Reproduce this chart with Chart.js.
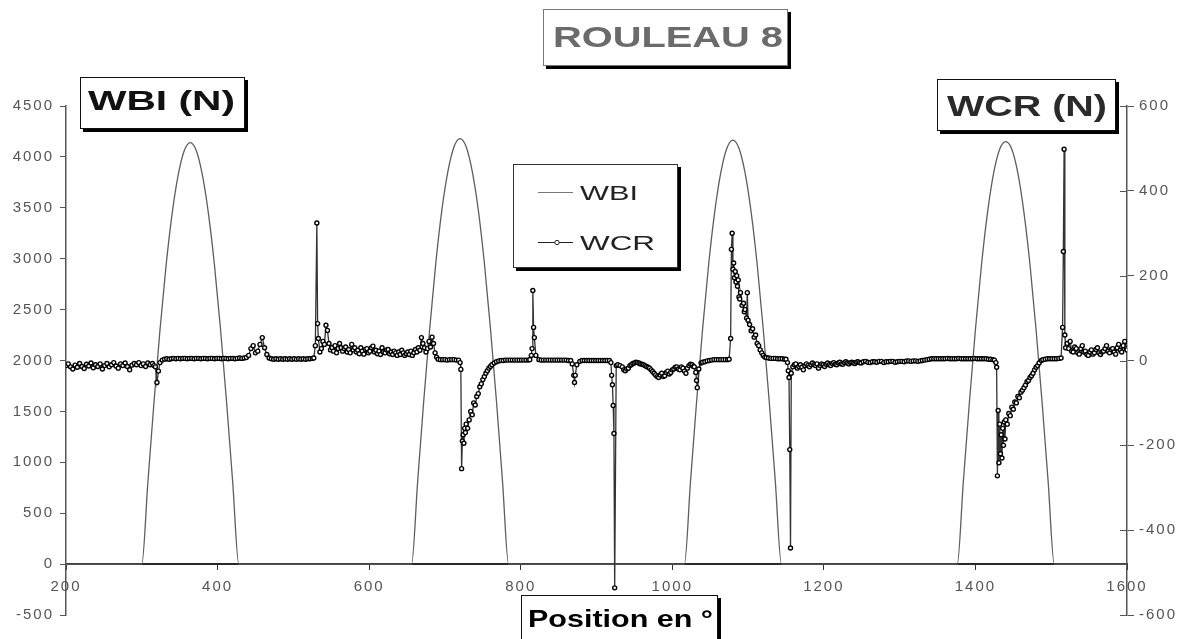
<!DOCTYPE html>
<html>
<head>
<meta charset="utf-8">
<title>ROULEAU 8</title>
<script src="https://cdn.jsdelivr.net/npm/chart.js@4.4.1/dist/chart.umd.min.js"></script>
<style>
  html, body { margin: 0; padding: 0; background: #fff; }
  #chart { display: block; }
</style>
</head>
<body>
<canvas id="chart" width="1184" height="639"></canvas>
<script>
// tick labels
const posTicks = [200, 400, 600, 800, 1000, 1200, 1400, 1600];
const wbiTicks = [-500, 0, 500, 1000, 1500, 2000, 2500, 3000, 3500, 4000, 4500];
const wcrTicks = [-600, -400, -200, 0, 200, 400, 600];

// WBI (N) : [position en °, effort]
const wbiPoints = [
  [200, 0], [300, 0],
  [308, 800], [316, 1580], [324, 2300], [332, 2930], [340, 3440], [348, 3820], [356, 4060], [364, 4140],
  [372, 4060], [380, 3820], [388, 3440], [396, 2930], [404, 2300], [412, 1580], [420, 800], [428, 0],
  [656, 0],
  [664, 810], [672, 1600], [680, 2320], [688, 2960], [696, 3480], [704, 3860], [712, 4100], [720, 4180],
  [728, 4100], [736, 3860], [744, 3480], [752, 2960], [760, 2320], [768, 1600], [776, 810], [784, 0],
  [1016, 0],
  [1024, 805], [1032, 1590], [1040, 2310], [1048, 2945], [1056, 3460], [1064, 3845], [1072, 4085], [1080, 4165],
  [1088, 4085], [1096, 3845], [1104, 3460], [1112, 2945], [1120, 2310], [1128, 1590], [1136, 805], [1144, 0],
  [1376, 0],
  [1384, 805], [1392, 1585], [1400, 2305], [1408, 2940], [1416, 3455], [1424, 3840], [1432, 4075], [1440, 4150],
  [1448, 4075], [1456, 3840], [1464, 3455], [1472, 2940], [1480, 2305], [1488, 1585], [1496, 805], [1504, 0],
  [1600, 0]
];

// WCR (N) : [position en °, effort]
const wcrPoints = [
  [200, -12], [203, -8], [206, -15], [209, -20], [212, -11], [215, -16], [218, -7], [221, -14], [224, -19], [227, -9],
  [230, -13], [233, -6], [236, -17], [239, -10], [242, -14], [245, -8], [248, -20], [251, -12], [254, -7], [257, -15],
  [260, -10], [263, -5], [266, -13], [269, -18], [272, -8], [275, -12], [278, -6], [281, -14], [284, -22], [287, -11],
  [290, -7], [293, -10], [296, -5], [299, -12], [302, -8], [305, -14], [308, -6], [311, -10], [314, -7], [316, -12],
  [318, -15], [320, -52], [322, -25], [324, -5],
  [327, 1], [330, 3], [333, 4], [336, 3], [339, 4], [342, 5], [345, 4], [348, 5], [351, 4], [354, 5], [357, 5],
  [360, 4], [363, 5], [366, 5], [369, 4], [372, 5], [375, 5], [378, 4], [381, 5], [384, 5], [387, 4], [390, 5],
  [393, 5], [396, 4], [399, 5], [402, 5], [405, 4], [408, 5], [411, 5], [414, 4], [417, 5], [420, 5], [423, 4],
  [426, 5], [429, 6], [432, 5], [435, 6], [438, 7],
  [441, 12], [444, 28], [447, 35], [450, 18], [453, 22], [456, 38], [459, 54], [462, 30], [465, 14], [468, 6],
  [471, 4], [474, 3], [477, 4], [480, 3], [483, 4], [486, 3], [489, 4], [492, 3], [495, 4], [498, 3], [501, 4],
  [504, 3], [507, 4], [510, 3], [513, 4], [516, 3], [519, 4], [522, 4], [525, 5], [527, 6],
  [529, 35], [531, 324], [532, 87], [533, 52], [535, 20],
  [537, 28], [539, 45], [541, 38], [543, 83], [545, 71], [547, 40], [549, 25], [551, 30], [553, 22], [555, 35],
  [557, 18], [559, 28], [561, 40], [563, 30], [565, 22], [567, 28], [569, 32], [571, 20], [573, 26], [575, 18],
  [577, 38], [579, 25], [581, 30], [583, 20], [585, 24], [587, 16], [589, 30], [591, 22], [593, 15], [595, 26],
  [597, 28], [599, 18], [601, 22], [603, 30], [605, 34], [607, 20], [609, 24], [611, 16], [613, 22], [615, 14],
  [617, 30], [619, 20], [621, 18], [623, 25], [625, 26], [627, 16], [629, 20], [631, 14], [633, 22], [635, 18],
  [637, 12], [639, 20], [641, 14], [643, 24], [645, 18], [647, 12], [649, 16], [651, 20], [653, 14], [655, 22],
  [657, 12], [659, 18], [661, 26], [663, 20], [665, 30], [667, 24], [669, 54], [671, 40], [673, 30], [675, 20],
  [677, 28], [679, 45], [681, 32], [683, 55], [685, 40], [687, 18], [689, 8], [691, 3],
  [694, 2], [697, 2], [700, 2], [703, 1], [706, 2], [709, 2], [712, 2], [715, 1], [718, 1],
  [720, -5], [721, -21], [722, -255], [723, -190], [724, -175], [725, -195], [726, -160], [727, -170], [728, -150],
  [730, -160], [732, -140], [734, -120], [736, -128], [738, -100], [740, -105], [742, -85], [744, -78], [746, -62],
  [748, -55], [750, -45], [752, -38], [754, -30], [756, -24], [758, -18], [760, -14], [762, -10], [765, -6], [768, -3],
  [771, -1], [774, 0], [777, 0], [780, 1], [783, 1], [786, 1], [789, 1], [792, 1], [795, 1], [798, 1], [801, 1],
  [804, 1], [807, 1], [810, 1], [812, 2],
  [814, 12], [815, 28], [816, 165], [817, 78], [818, 54], [820, 12], [824, 2],
  [827, 1], [830, 1], [833, 1], [836, 1], [839, 1], [842, 1], [845, 1], [848, 1], [851, 1], [854, 1], [857, 1],
  [860, 1], [863, 0], [866, 0],
  [868, -8], [870, -35], [871, -52], [872, -35], [874, -10], [878, -2],
  [881, 0], [884, 0], [887, 0], [890, 0], [893, 0], [896, 0], [899, 0], [902, 0], [905, 0], [908, 0], [911, 0],
  [914, 0], [917, 0],
  [919, -5], [920, -35], [921, -57], [922, -106], [923, -172], [924, -536], [926, -12],
  [928, -10], [931, -12], [934, -15], [936, -22], [938, -24], [940, -20], [942, -18], [944, -12], [946, -10],
  [948, -7], [950, -6], [952, -4], [954, -5], [956, -6], [958, -8], [960, -9], [962, -10], [964, -12], [966, -14],
  [968, -16], [970, -18], [972, -22], [974, -26], [976, -30], [978, -34], [980, -38], [982, -40], [984, -34],
  [986, -30], [988, -38], [990, -36], [992, -28], [994, -25], [996, -32], [998, -28], [1000, -22], [1002, -20],
  [1004, -16], [1006, -15], [1008, -20], [1010, -22], [1012, -15], [1014, -18], [1016, -25], [1018, -30],
  [1020, -18], [1022, -12], [1024, -9], [1026, -10], [1028, -14], [1029, -15],
  [1031, -28], [1032, -47], [1033, -64], [1035, -20], [1038, -6],
  [1040, -4], [1043, -3], [1046, -1], [1049, 0], [1052, 1], [1055, 2], [1058, 2], [1061, 2], [1064, 2], [1067, 2],
  [1070, 2], [1073, 2], [1075, 3],
  [1077, 52], [1078, 262], [1079, 300], [1080, 215], [1081, 230], [1082, 195], [1083, 210], [1084, 185], [1085, 200],
  [1086, 175], [1087, 190], [1088, 150], [1089, 145], [1090, 160], [1092, 130], [1094, 135], [1095, 115], [1096, 120],
  [1098, 100], [1099, 160], [1100, 95], [1102, 85], [1104, 70], [1106, 75], [1108, 55], [1110, 60], [1112, 40],
  [1114, 35], [1116, 25], [1118, 18], [1120, 12], [1122, 8],
  [1124, 7], [1127, 6], [1130, 5], [1133, 5], [1136, 5], [1139, 4], [1142, 4], [1145, 4], [1148, 3], [1150, 3],
  [1152, -5], [1153, -24], [1154, -40], [1155, -210], [1156, -442], [1157, -30],
  [1159, -15], [1161, -10], [1163, -8], [1165, -18], [1167, -14], [1169, -10], [1171, -16], [1173, -22], [1175, -12],
  [1177, -8], [1179, -12], [1181, -15], [1183, -10], [1185, -6], [1187, -10], [1189, -12], [1191, -8], [1193, -18],
  [1195, -12], [1197, -8], [1199, -10], [1201, -14], [1203, -9], [1205, -6], [1207, -10], [1209, -12], [1211, -7],
  [1213, -5], [1215, -9], [1217, -10], [1219, -6], [1221, -4], [1223, -8], [1225, -9], [1227, -5], [1229, -3],
  [1231, -6], [1233, -8], [1235, -5], [1237, -4], [1239, -6], [1241, -7], [1243, -4], [1245, -3], [1247, -5],
  [1249, -6], [1252, -3], [1255, -2], [1258, -4], [1261, -5], [1264, -3], [1267, -3], [1270, -4], [1273, -2],
  [1276, -2], [1279, -5], [1282, -3], [1285, -3], [1288, -2], [1291, -2], [1294, -4], [1297, -3], [1300, -2],
  [1303, -2], [1306, -3], [1309, -1], [1312, -1], [1315, -2], [1318, -1], [1321, -1], [1324, -2], [1327, -1],
  [1330, 0], [1333, 1], [1336, 2], [1339, 3], [1342, 4], [1345, 4], [1348, 4], [1351, 4], [1354, 4], [1357, 4],
  [1360, 4], [1363, 5], [1366, 4], [1369, 4], [1372, 4], [1375, 4], [1378, 5], [1381, 4], [1384, 4], [1387, 4],
  [1390, 4], [1393, 4], [1396, 4], [1399, 5], [1402, 4], [1405, 4], [1408, 4], [1411, 4], [1414, 4], [1417, 3],
  [1420, 3], [1423, 2], [1425, 1],
  [1427, -5], [1428, -16], [1429, -272], [1430, -118], [1431, -241], [1432, -150], [1433, -220], [1434, -175],
  [1435, -230], [1436, -160], [1437, -200], [1438, -145], [1439, -185], [1440, -140], [1442, -150], [1444, -125],
  [1446, -130], [1448, -110], [1450, -115], [1452, -98], [1454, -100], [1456, -85], [1458, -88], [1460, -75],
  [1462, -70], [1464, -64], [1466, -58], [1468, -50], [1470, -47], [1472, -40], [1474, -36], [1476, -30],
  [1478, -22], [1480, -16], [1482, -12], [1484, -6], [1487, 0],
  [1489, 2], [1492, 3], [1495, 4], [1498, 4], [1501, 4], [1504, 4], [1507, 4], [1510, 5], [1513, 6],
  [1515, 78], [1516, 257], [1517, 498], [1518, 60],
  [1519, 30], [1521, 40], [1523, 28], [1525, 45], [1527, 22], [1529, 20], [1531, 32], [1533, 28], [1535, 18],
  [1537, 15], [1539, 28], [1541, 35], [1543, 20], [1545, 22], [1547, 14], [1549, 12], [1551, 20], [1553, 25],
  [1555, 15], [1557, 18], [1559, 26], [1561, 30], [1563, 18], [1565, 14], [1567, 20], [1569, 22], [1571, 28],
  [1573, 35], [1575, 22], [1577, 18], [1579, 26], [1581, 28], [1583, 20], [1585, 15], [1587, 30], [1589, 38],
  [1591, 24], [1593, 20], [1595, 35], [1597, 45], [1599, 28], [1600, 25]
];

const toXY = pts => pts.map(p => ({ x: p[0], y: p[1] }));
const setTicks = list => scale => { scale.ticks = list.map(v => ({ value: v })); };

function shadowBox(ctx, x, y, w, h, border) {
  ctx.fillStyle = '#000';
  ctx.fillRect(x + 3, y + 3, w, h);
  ctx.fillStyle = '#fff';
  ctx.fillRect(x, y, w, h);
  ctx.strokeStyle = border;
  ctx.lineWidth = 1;
  ctx.strokeRect(x + 0.5, y + 0.5, w - 1, h - 1);
}

// the picture is stretched sideways, so text is squeezed to a given width
function stretchText(ctx, text, x, base, font, width, color) {
  ctx.save();
  ctx.letterSpacing = '0px';
  ctx.font = font;
  ctx.fillStyle = color;
  ctx.textAlign = 'left';
  ctx.textBaseline = 'alphabetic';
  const k = width / ctx.measureText(text).width;
  ctx.translate(x, base);
  ctx.scale(k, 1);
  ctx.fillText(text, 0, 0);
  ctx.restore();
}

// right axis ticks cross the axis line
function crossTicks(chart) {
  const ctx = chart.ctx;
  const yR = chart.scales.yR;
  ctx.save();
  ctx.strokeStyle = '#555';
  ctx.lineWidth = 1;
  yR.ticks.forEach(t => {
    const y = Math.round(yR.getPixelForValue(t.value)) + 0.5;
    ctx.beginPath();
    ctx.moveTo(yR.left - 7, y);
    ctx.lineTo(yR.left, y);
    ctx.stroke();
  });
  ctx.restore();
}

const decorations = {
  id: 'decorations',
  beforeDraw(chart) {
    chart.ctx.letterSpacing = '2px';
  },
  afterDraw(chart) {
    const ctx = chart.ctx;
    crossTicks(chart);
    ctx.save();
    ctx.letterSpacing = '0px';

    shadowBox(ctx, 543, 9, 245, 57, '#777');
    stretchText(ctx, 'ROULEAU 8', 553, 47, 'bold 30px "Liberation Sans", Arial', 230, '#6b6b6b');

    shadowBox(ctx, 80, 77, 165, 52, '#111');
    stretchText(ctx, 'WBI (N)', 88, 110, 'bold 28px "Liberation Sans", Arial', 147, '#111');

    shadowBox(ctx, 937, 79, 179, 52, '#111');
    stretchText(ctx, 'WCR (N)', 947, 116, 'bold 30px "Liberation Sans", Arial', 160, '#2a2a2a');

    shadowBox(ctx, 521, 595, 197, 60, '#111');
    stretchText(ctx, 'Position en °', 528, 627, 'bold 24px "Liberation Sans", Arial', 185, '#000');

    // legend
    shadowBox(ctx, 513, 164, 165, 104, '#333');
    ctx.lineWidth = 1;
    ctx.strokeStyle = '#777';
    ctx.beginPath(); ctx.moveTo(538, 192.5); ctx.lineTo(573, 192.5); ctx.stroke();
    stretchText(ctx, 'WBI', 580, 200, '21px "Liberation Sans", Arial', 58, '#222');
    ctx.strokeStyle = '#222';
    ctx.beginPath(); ctx.moveTo(538, 242.5); ctx.lineTo(573, 242.5); ctx.stroke();
    ctx.fillStyle = '#fff';
    ctx.beginPath(); ctx.arc(557, 242.5, 2.2, 0, Math.PI * 2); ctx.fill(); ctx.stroke();
    stretchText(ctx, 'WCR', 580, 250, '21px "Liberation Sans", Arial', 75, '#222');
    ctx.restore();
  }
};

const tickFont = { family: '"Liberation Sans", Arial', size: 15 };
const plain = v => String(v);

new Chart(document.getElementById('chart'), {
  type: 'line',
  data: {
    datasets: [
      {
        label: 'WBI',
        data: toXY(wbiPoints),
        yAxisID: 'yL',
        borderColor: '#5e5e5e',
        borderWidth: 1.3,
        pointRadius: 0,
        cubicInterpolationMode: 'monotone',
        order: 1
      },
      {
        label: 'WCR',
        data: toXY(wcrPoints),
        yAxisID: 'yR',
        borderColor: '#333',
        borderWidth: 1.3,
        pointRadius: 2,
        pointBorderWidth: 1.4,
        pointBorderColor: '#000',
        pointBackgroundColor: '#fff',
        order: 0
      }
    ]
  },
  options: {
    responsive: false,
    devicePixelRatio: 1,
    animation: false,
    events: [],
    layout: { padding: { top: 106, bottom: 24, left: 0, right: 0 } },
    plugins: { legend: { display: false }, tooltip: { enabled: false } },
    scales: {
      x: {
        type: 'linear',
        axis: 'x',
        position: { yL: 0 },
        min: 200,
        max: 1600,
        z: 1,
        afterBuildTicks: setTicks(posTicks),
        grid: { drawOnChartArea: false, tickLength: 5, color: '#333', lineWidth: 1 },
        border: { color: '#2a2a2a', width: 2 },
        ticks: { color: '#555', font: tickFont, padding: 9, maxRotation: 0, autoSkip: false, callback: plain }
      },
      yL: {
        type: 'linear',
        position: 'left',
        min: -500,
        max: 4500,
        afterBuildTicks: setTicks(wbiTicks),
        afterFit: s => { s.width = 66; },
        grid: { drawOnChartArea: false, tickLength: 6, color: '#555' },
        border: { color: '#555', width: 1.5 },
        ticks: { color: '#555', font: tickFont, padding: 6, autoSkip: false, callback: plain }
      },
      yR: {
        type: 'linear',
        position: 'right',
        min: -600,
        max: 600,
        afterBuildTicks: setTicks(wcrTicks),
        afterFit: s => { s.width = 57; },
        grid: { drawOnChartArea: false, tickLength: 7, color: '#555' },
        border: { color: '#555', width: 1.5 },
        ticks: { color: '#555', font: tickFont, padding: 5, autoSkip: false, callback: plain }
      }
    }
  },
  plugins: [decorations]
});
</script>
</body>
</html>
